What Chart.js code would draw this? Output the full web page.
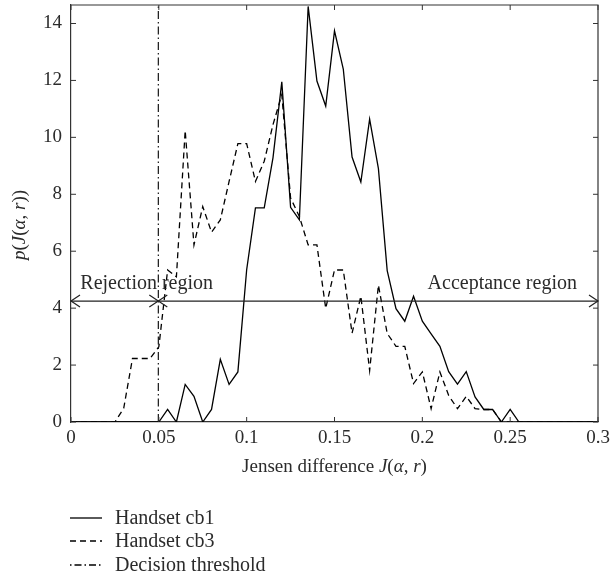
<!DOCTYPE html>
<html><head><meta charset="utf-8">
<script src="https://cdn.jsdelivr.net/npm/chart.js@4/dist/chart.umd.min.js"></script>
<style>html,body{margin:0;padding:0;background:#fff;}#wrap{width:610px;height:579px;}</style>
</head><body><div id="wrap"><canvas id="c" width="610" height="579"></canvas></div>
<script>
// ---- data ----
const xValues = [0,0.005,0.01,0.015,0.02,0.025,0.03,0.035,0.04,0.045,
  0.05,0.055,0.06,0.065,0.07,0.075,0.08,0.085,0.09,0.095,
  0.1,0.105,0.11,0.115,0.12,0.125,0.13,0.135,0.14,0.145,
  0.15,0.155,0.16,0.165,0.17,0.175,0.18,0.185,0.19,0.195,
  0.2,0.205,0.21,0.215,0.22,0.225,0.23,0.235,0.24,0.245,
  0.25,0.255,0.26,0.265,0.27,0.275,0.28,0.285,0.29,0.295,0.3];
const cb1Values = [0,0,0,0,0,0,0,0,0,0,
  0,0.44,0,1.32,0.9,0,0.44,2.2,1.32,1.76,
  5.35,7.52,7.52,9.29,11.95,7.54,7.1,14.6,11.98,11.1,
  13.74,12.4,9.31,8.43,10.64,8.9,5.32,3.98,3.54,4.42,
  3.54,3.1,2.66,1.77,1.33,1.77,0.88,0.44,0.44,0,
  0.44,0,0,0,0,0,0,0,0,0,0];
const cb3Values = [0,0,0,0,0,0,0.48,2.23,2.23,2.23,
  2.64,5.34,5.1,10.24,6.22,7.57,6.67,7.1,8.45,9.78,
  9.78,8.45,9.16,10.45,11.5,7.87,7.22,6.22,6.22,3.99,
  5.34,5.34,3.12,4.42,1.81,4.81,3.11,2.66,2.66,1.35,
  1.76,0.47,1.76,0.93,0.47,0.9,0.47,0.44,0.44,0,
  0,0,0,0,0,0,0,0,0,0,0];
const thresholdX = [0.0497, 0.0497];
const thresholdY = [0, 14.65];
const xTickLabels = ['0','0.05','0.1','0.15','0.2','0.25','0.3'];
const yTickLabels = ['0','2','4','6','8','10','12','14'];
const seriesNames = ['Handset cb1','Handset cb3','Decision threshold'];
const regionNames = ['Rejection region','Acceptance region'];
const regionArrowY = 4.25;
const regionArrowX = [0, 0.0497, 0.3];
const xAxisTitle = [['Jensen difference ',false],['J',true],['(',false],['\u03b1',true],[', ',false],['r',true],[')',false]];
const yAxisTitle = [['p',true],['(',false],['J',true],['(',false],['\u03b1',true],[', ',false],['r',true],[')',false],[')',false]];

// ---- helpers ----
const FONT = '"Liberation Serif", "Times New Roman", serif';
const TXT = '#2b2b2b';
const AX = '#333';
function pts(xs, ys){ return xs.map((x,i)=>({x:x, y:ys[i]})); }
function richText(ctx, parts, x, y, size, align){
  let w = 0;
  parts.forEach(p=>{ ctx.font = (p[1]?'italic ':'') + size + 'px ' + FONT; w += ctx.measureText(p[0]).width; });
  let cx = align==='center' ? x - w/2 : x;
  ctx.textAlign = 'left';
  parts.forEach(p=>{ ctx.font = (p[1]?'italic ':'') + size + 'px ' + FONT; ctx.fillText(p[0], cx, y); cx += ctx.measureText(p[0]).width; });
}
function arrowHead(ctx, tx, ty, dir){
  const L = 9, H = 6;
  ctx.beginPath();
  ctx.moveTo(tx - dir*L, ty - H);
  ctx.lineTo(tx, ty);
  ctx.lineTo(tx - dir*L, ty + H);
  ctx.stroke();
}
function noPad(s){ s.paddingTop = 0; s.paddingBottom = 0; s.paddingLeft = 0; s.paddingRight = 0; }

const decor = {
  id: 'decor',
  afterDatasetsDraw(chart){
    const ctx = chart.ctx, a = chart.chartArea;
    const xs = chart.scales.x, ys = chart.scales.y;
    ctx.save();
    // box
    ctx.strokeStyle = AX; ctx.lineWidth = 1.2; ctx.setLineDash([]);
    ctx.beginPath();
    ctx.moveTo(a.left, a.top); ctx.lineTo(a.right, a.top); ctx.lineTo(a.right, a.bottom);
    ctx.stroke();
    // inward ticks
    ctx.lineWidth = 1;
    xTickLabels.forEach(l=>{
      const px = xs.getPixelForValue(+l);
      ctx.beginPath(); ctx.moveTo(px, a.bottom); ctx.lineTo(px, a.bottom-5);
      ctx.moveTo(px, a.top); ctx.lineTo(px, a.top+5); ctx.stroke();
    });
    yTickLabels.forEach(l=>{
      const py = ys.getPixelForValue(+l);
      ctx.beginPath(); ctx.moveTo(a.left, py); ctx.lineTo(a.left+5, py);
      ctx.moveTo(a.right, py); ctx.lineTo(a.right-5, py); ctx.stroke();
    });
    // region arrows
    ctx.strokeStyle = '#222'; ctx.lineWidth = 1.2;
    const ay = ys.getPixelForValue(regionArrowY);
    const x0 = xs.getPixelForValue(regionArrowX[0]), x1 = xs.getPixelForValue(regionArrowX[1]), x2 = xs.getPixelForValue(regionArrowX[2]);
    ctx.beginPath(); ctx.moveTo(x0, ay); ctx.lineTo(x2, ay); ctx.stroke();
    arrowHead(ctx, x0, ay, -1);
    arrowHead(ctx, x1, ay, 1);
    arrowHead(ctx, x1, ay, -1);
    arrowHead(ctx, x2, ay, 1);
    // region labels
    ctx.fillStyle = TXT; ctx.textBaseline = 'middle';
    ctx.font = '20px ' + FONT; ctx.textAlign = 'left';
    ctx.fillText(regionNames[0], xs.getPixelForValue(0.0053), ys.getPixelForValue(4.85));
    ctx.fillText(regionNames[1], xs.getPixelForValue(0.203), ys.getPixelForValue(4.85));
    // x axis title
    richText(ctx, xAxisTitle, (a.left+a.right)/2, 467, 19, 'center');
    // y axis title
    ctx.save();
    ctx.translate(20, 225); ctx.rotate(-Math.PI/2);
    richText(ctx, yAxisTitle, 0, 0, 19, 'center');
    ctx.restore();
    // legend
    const rows = [518, 541, 565];
    const dashes = [[], [6,4], [1.5,3,7,3]];
    chart.data.datasets.forEach((d,i)=>{
      ctx.strokeStyle = '#000'; ctx.lineWidth = 1.3; ctx.setLineDash(dashes[i]);
      ctx.beginPath(); ctx.moveTo(70, rows[i]); ctx.lineTo(102, rows[i]); ctx.stroke();
      ctx.setLineDash([]);
      ctx.fillStyle = TXT; ctx.font = '20px ' + FONT; ctx.textAlign='left'; ctx.textBaseline='middle';
      ctx.fillText(seriesNames[i], 115, rows[i]+1);
    });
    ctx.restore();
  }
};

new Chart(document.getElementById('c'), {
  type: 'line',
  data: {
    datasets: [
      {label: seriesNames[0], data: pts(xValues, cb1Values), borderColor:'#000', borderWidth:1.3, pointRadius:0, tension:0, fill:false},
      {label: seriesNames[1], data: pts(xValues, cb3Values), borderColor:'#000', borderWidth:1.3, borderDash:[6,4], pointRadius:0, tension:0, fill:false},
      {label: seriesNames[2], data: pts(thresholdX, thresholdY), borderColor:'#000', borderWidth:1.1, borderDash:[8,3,1.5,3], pointRadius:0, tension:0, fill:false}
    ]
  },
  options: {
    responsive: false, animation: false, devicePixelRatio: 1,
    layout: {padding: {left: 0, right: 12, top: 5, bottom: 97}},
    plugins: {legend: {display:false}, tooltip: {enabled:false}},
    scales: {
      x: {
        type: 'linear', min: 0, max: 0.3,
        afterBuildTicks: s => { s.ticks = xTickLabels.map(l=>({value:+l})); },
        afterFit: s => { s.height = 60; noPad(s); },
        ticks: {callback: (v,i) => xTickLabels[i], color: TXT, font: {family: FONT, size: 19}, padding: 5, maxRotation: 0, autoSkip: false},
        grid: {display: false, drawTicks: false},
        border: {display: true, color: AX, width: 1.2}
      },
      y: {
        min: 0, max: 14.65,
        afterBuildTicks: s => { s.ticks = yTickLabels.map(l=>({value:+l})); },
        afterFit: s => { s.width = 71; noPad(s); },
        ticks: {callback: (v,i) => yTickLabels[i], color: TXT, font: {family: FONT, size: 19}, padding: 9, autoSkip: false},
        grid: {display: false, drawTicks: false},
        border: {display: true, color: AX, width: 1.2}
      }
    }
  },
  plugins: [decor]
});
</script></body></html>
